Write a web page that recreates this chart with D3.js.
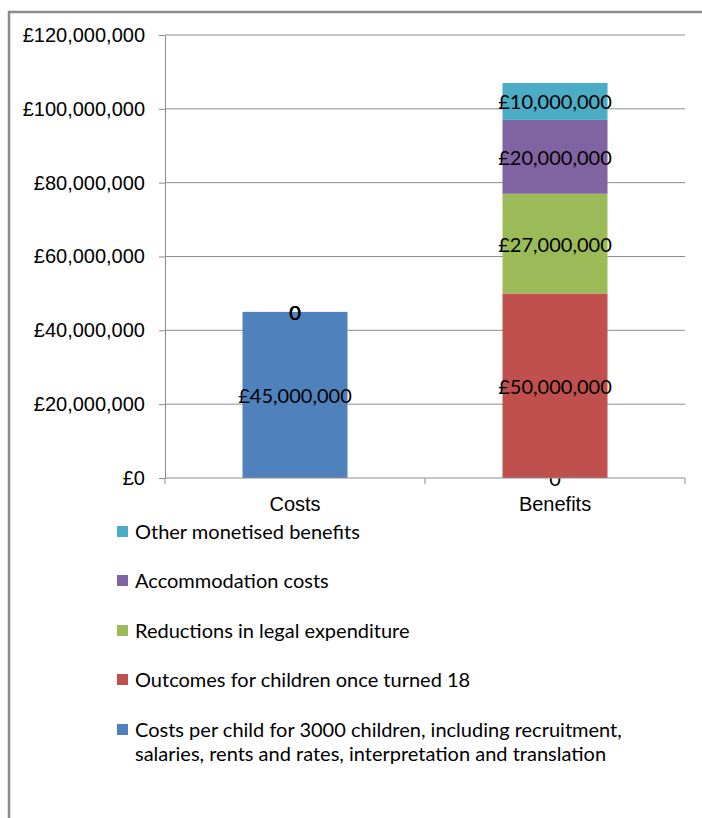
<!DOCTYPE html>
<meta charset="utf-8">
<script src="https://cdn.jsdelivr.net/npm/d3@7"></script>
<style>
  body { margin: 0; background: #fff; }
  svg { font-family: Lato, "Open Sans", sans-serif; }
  .grid line { stroke: #8c8c8c; }
  .axis path, .axis line { stroke: #8c8c8c; }
  .axis text { fill: #000; font-size: 20px; }
</style>
<div id="chart"></div>
<script>
// categories and series (stack order, bottom first)
const categories = ["Costs", "Benefits"];
const seriesNames = [
  "Costs per child for 3000 children, including recruitment, salaries, rents and rates, interpretation and translation",
  "Outcomes for children once turned 18",
  "Reductions in legal expenditure",
  "Accommodation costs",
  "Other monetised benefits"
];
const seriesColors = ["#4f81bd", "#c0504d", "#9bbb59", "#8064a2", "#4bacc6"];
const costsPerChild = [45000000, 0];
const outcomes18 = [0, 50000000];
const legalReductions = [0, 27000000];
const accommodation = [0, 20000000];
const otherBenefits = [0, 10000000];
const yTicks = [0, 20000000, 40000000, 60000000, 80000000, 100000000, 120000000];
// legend lines (last one wraps)
const legendLines = [
  ["Other monetised benefits"],
  ["Accommodation costs"],
  ["Reductions in legal expenditure"],
  ["Outcomes for children once turned 18"],
  ["Costs per child for 3000 children, including recruitment,", "salaries, rents and rates, interpretation and translation"]
];

const width = 702, height = 818;
const plot = {left: 165, right: 685, top: 35, bottom: 478};

const allSeries = [costsPerChild, outcomes18, legalReductions, accommodation, otherBenefits];
const table = categories.map((c, i) => {
  const row = {cat: c};
  seriesNames.forEach((s, j) => row[s] = allSeries[j][i]);
  return row;
});
const stacked = d3.stack().keys(seriesNames)(table);

const svg = d3.select("#chart").append("svg")
  .attr("width", width).attr("height", height);

// outer frame
svg.append("path")
  .attr("d", `M9,${height + 5}V12H${width + 5}`)
  .attr("fill", "none").attr("stroke", "#8c8c8c").attr("stroke-width", 2.5);

const x = d3.scaleBand().domain(categories).range([plot.left, plot.right]).paddingInner(0).paddingOuter(0);
const y = d3.scaleLinear().domain([0, 120000000]).range([plot.bottom, plot.top]);
const barW = 105;

// gridlines
svg.append("g").attr("class", "grid")
  .selectAll("line").data(yTicks.slice(1)).join("line")
  .attr("x1", plot.left).attr("x2", plot.right)
  .attr("y1", d => y(d)).attr("y2", d => y(d));

const money = d3.format(",");
const fmt = v => v === 0 ? "0" : "£" + money(v);

// bars
const layer = svg.append("g").selectAll("g").data(stacked).join("g")
  .attr("fill", (d, i) => seriesColors[i]);
layer.selectAll("rect").data(d => d).join("rect")
  .attr("x", d => x(d.data.cat) + x.bandwidth() / 2 - barW / 2)
  .attr("width", barW)
  .attr("y", d => y(d[1]))
  .attr("height", d => y(d[0]) - y(d[1]));

// y axis
svg.append("g").attr("class", "axis")
  .attr("transform", `translate(${plot.left},0)`)
  .call(d3.axisLeft(y).tickValues(yTicks).tickSize(6).tickSizeOuter(0).tickPadding(14)
    .tickFormat(d => "£" + money(d)));

// x axis
const xAxis = svg.append("g").attr("class", "axis")
  .attr("transform", `translate(0,${plot.bottom})`)
  .call(d3.axisBottom(x).tickSize(0).tickPadding(19));
xAxis.select(".domain").remove();
xAxis.append("line").attr("x1", plot.left).attr("x2", plot.right).attr("stroke", "#8c8c8c");
xAxis.selectAll(".xt").data([plot.left, (plot.left + plot.right) / 2, plot.right]).join("line")
  .attr("class", "xt").attr("x1", d => d).attr("x2", d => d).attr("y1", 0).attr("y2", 6)
  .attr("stroke", "#8c8c8c");

// data labels
layer.selectAll("text").data(d => d).join("text")
  .attr("x", d => x(d.data.cat) + x.bandwidth() / 2)
  .attr("y", d => (y(d[0]) + y(d[1])) / 2)
  .attr("text-anchor", "middle").attr("dominant-baseline", "central")
  .attr("fill", "#000").attr("font-size", 20)
  .text(d => fmt(d[1] - d[0]));

// legend
const lg = svg.append("g").attr("transform", "translate(117,0)");
const rowY = [531, 580, 630, 679, 729];
const legendColors = seriesColors.slice().reverse();
legendLines.forEach((lines, i) => {
  lg.append("rect").attr("x", 0).attr("y", rowY[i] - 5).attr("width", 11).attr("height", 11)
    .attr("fill", legendColors[i]);
  lines.forEach((t, k) => {
    lg.append("text").attr("x", 18).attr("y", rowY[i] + k * 24)
      .attr("dominant-baseline", "central").attr("font-size", 20).attr("fill", "#000")
      .text(t);
  });
});
</script>
